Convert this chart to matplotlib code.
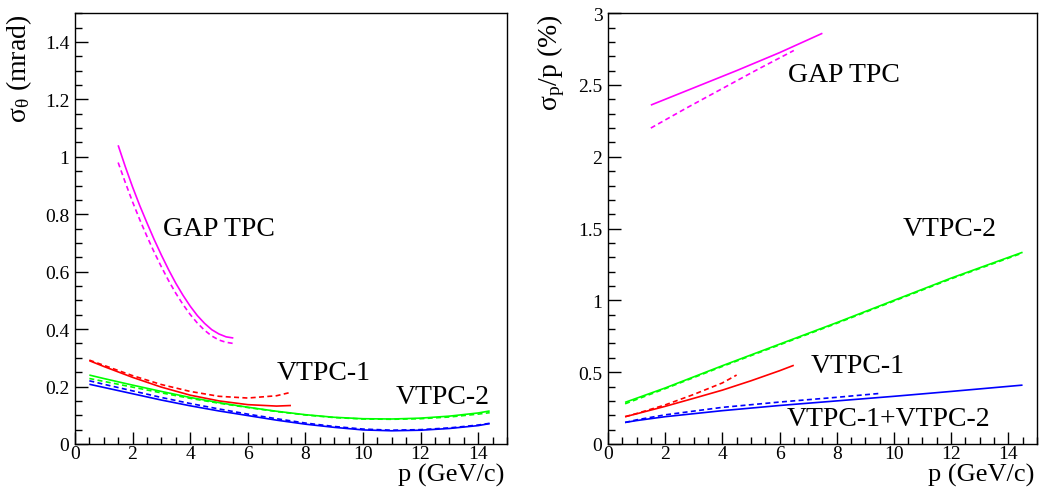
import matplotlib
matplotlib.use("Agg")
import matplotlib.pyplot as plt
from matplotlib.ticker import MultipleLocator

plt.rcParams['font.family'] = ['Liberation Serif', 'DejaVu Serif']
plt.rcParams['mathtext.fontset'] = 'stix'

# ---------------- Left panel: sigma_theta (mrad) ----------------
gap_th_x = [1.5, 1.75, 2.0, 2.25, 2.5, 2.75, 3.0, 3.25, 3.5, 3.75, 4.0, 4.25,
            4.5, 4.75, 5.0, 5.25, 5.5]
gap_th_solid = [1.04, 0.965, 0.895, 0.83, 0.77, 0.712, 0.658, 0.607, 0.56,
                0.518, 0.48, 0.447, 0.42, 0.398, 0.383, 0.373, 0.369]
gap_th_dash = [0.98, 0.91, 0.843, 0.781, 0.723, 0.668, 0.617, 0.569, 0.525,
               0.486, 0.451, 0.421, 0.396, 0.376, 0.362, 0.354, 0.350]

v1_th_x = [0.5, 1, 2, 3, 4, 5, 6, 7, 7.5]
v1_th_solid = [0.29, 0.27, 0.232, 0.198, 0.170, 0.150, 0.137, 0.132, 0.134]
v1_th_dash = [0.292, 0.274, 0.238, 0.207, 0.183, 0.166, 0.160, 0.168, 0.180]

v_th_x = [0.5, 1, 2, 3, 4, 5, 6, 7, 8, 9, 10, 11, 12, 13, 14, 14.4]
v2_th_solid = [0.240, 0.228, 0.205, 0.183, 0.162, 0.144, 0.128, 0.114, 0.102,
               0.093, 0.088, 0.087, 0.090, 0.097, 0.108, 0.115]
v2_th_dash = [0.228, 0.218, 0.198, 0.178, 0.159, 0.142, 0.127, 0.113, 0.101,
              0.092, 0.087, 0.086, 0.088, 0.094, 0.104, 0.109]
v12_th_solid = [0.208, 0.197, 0.175, 0.153, 0.133, 0.115, 0.099, 0.083, 0.069,
                0.058, 0.049, 0.046, 0.048, 0.054, 0.064, 0.071]
v12_th_dash = [0.220, 0.208, 0.185, 0.162, 0.141, 0.122, 0.104, 0.088, 0.073,
               0.061, 0.052, 0.048, 0.050, 0.056, 0.066, 0.072]

# ---------------- Right panel: sigma_p/p (%) ----------------
gap_p_x_solid = [1.5, 3.0, 4.5, 6.0, 7.5]
gap_p_solid = [2.36, 2.48, 2.60, 2.725, 2.86]
gap_p_x_dash = [1.5, 2.75, 4.0, 5.25, 6.5]
gap_p_dash = [2.20, 2.34, 2.475, 2.61, 2.74]

v2_p_x = [0.6, 2, 4, 6, 8, 10, 12, 14.5]
v2_p_solid = [0.29, 0.39, 0.545, 0.695, 0.845, 1.0, 1.155, 1.335]
v2_p_dash = [0.28, 0.385, 0.54, 0.69, 0.84, 0.995, 1.15, 1.33]

v1_p_x_solid = [0.6, 1, 2, 3, 4, 5, 6, 6.5]
v1_p_solid = [0.19, 0.21, 0.262, 0.318, 0.375, 0.44, 0.51, 0.548]
v1_p_x_dash = [0.6, 1, 2, 3, 4, 4.5]
v1_p_dash = [0.19, 0.212, 0.272, 0.345, 0.425, 0.48]

v12_p_x_solid = [0.6, 1, 2, 4, 6, 8, 10, 12, 14.5]
v12_p_solid = [0.15, 0.163, 0.19, 0.232, 0.268, 0.300, 0.332, 0.366, 0.41]
v12_p_x_dash = [0.6, 1, 2, 4, 6, 8, 9.5]
v12_p_dash = [0.15, 0.168, 0.203, 0.255, 0.292, 0.325, 0.352]

MAG, RED, GRN, BLU = '#ff00ff', '#ff0000', '#00ff00', '#0000ff'
LW = 1.2
DASH = (0, (3, 2))

fig = plt.figure(figsize=(10.41, 4.89), dpi=100)
ax1 = fig.add_axes([0.072, 0.090, 0.415, 0.881])
ax2 = fig.add_axes([0.584, 0.090, 0.412, 0.881])

def solid(ax, x, y, c):
    ax.plot(x, y, color=c, lw=LW, solid_capstyle='butt', solid_joinstyle='round')

def dashed(ax, x, y, c):
    ax.plot(x, y, color=c, lw=LW, linestyle=DASH)

# left panel
solid(ax1, gap_th_x, gap_th_solid, MAG); dashed(ax1, gap_th_x, gap_th_dash, MAG)
solid(ax1, v1_th_x, v1_th_solid, RED); dashed(ax1, v1_th_x, v1_th_dash, RED)
solid(ax1, v_th_x, v2_th_solid, GRN); dashed(ax1, v_th_x, v2_th_dash, GRN)
solid(ax1, v_th_x, v12_th_solid, BLU); dashed(ax1, v_th_x, v12_th_dash, BLU)

# right panel
solid(ax2, gap_p_x_solid, gap_p_solid, MAG); dashed(ax2, gap_p_x_dash, gap_p_dash, MAG)
solid(ax2, v2_p_x, v2_p_solid, GRN); dashed(ax2, v2_p_x, v2_p_dash, GRN)
solid(ax2, v1_p_x_solid, v1_p_solid, RED); dashed(ax2, v1_p_x_dash, v1_p_dash, RED)
solid(ax2, v12_p_x_solid, v12_p_solid, BLU); dashed(ax2, v12_p_x_dash, v12_p_dash, BLU)

TXT = 20
ax1.text(3.04, 0.75, 'GAP TPC', fontsize=TXT, va='center', ha='left')
ax1.text(7.0, 0.25, 'VTPC-1', fontsize=TXT, va='center', ha='left')
ax1.text(11.15, 0.165, 'VTPC-2', fontsize=TXT, va='center', ha='left')

ax2.text(6.3, 2.57, 'GAP TPC', fontsize=TXT, va='center', ha='left')
ax2.text(10.3, 1.50, 'VTPC-2', fontsize=TXT, va='center', ha='left')
ax2.text(7.1, 0.545, 'VTPC-1', fontsize=TXT, va='center', ha='left')
ax2.text(6.25, 0.18, 'VTPC-1+VTPC-2', fontsize=TXT, va='center', ha='left')

for ax in (ax1, ax2):
    ax.set_xlim(0, 15)
    ax.xaxis.set_minor_locator(MultipleLocator(0.5))
    ax.tick_params(which='both', direction='in', top=False, right=False,
                   labelsize=14, width=1.0, colors='black')
    ax.tick_params(axis='x', which='both', pad=0.5)
    ax.tick_params(axis='y', which='both', pad=4)
    ax.tick_params(which='major', length=9)
    ax.tick_params(which='minor', length=5)
    for s in ax.spines.values():
        s.set_linewidth(1.0)
    ax.set_xlabel('p (GeV/c)', fontsize=19, ha='right', va='top')
    ax.xaxis.set_label_coords(0.995, -0.044)
    ax.set_xticks([0, 2, 4, 6, 8, 10, 12, 14])
    ax.set_xticklabels(['0', '2', '4', '6', '8', '10', '12', '14'])

ax1.set_ylim(0, 1.5)
ax1.yaxis.set_minor_locator(MultipleLocator(0.05))
ax1.set_yticks([0, 0.2, 0.4, 0.6, 0.8, 1.0, 1.2, 1.4])
ax1.set_yticklabels(['0', '0.2', '0.4', '0.6', '0.8', '1', '1.2', '1.4'])
ax1.set_ylabel(r'$\mathregular{\sigma_{\theta}}$ (mrad)', fontsize=20, loc='top', labelpad=8)

ax2.set_ylim(0, 3)
ax2.yaxis.set_minor_locator(MultipleLocator(0.1))
ax2.set_yticks([0, 0.5, 1, 1.5, 2, 2.5, 3])
ax2.set_yticklabels(['0', '0.5', '1', '1.5', '2', '2.5', '3'])
ax2.set_ylabel(r'$\mathregular{\sigma_{p}}$/p (%)', fontsize=20, loc='top', labelpad=8)

fig.savefig('out.png', dpi=100)
